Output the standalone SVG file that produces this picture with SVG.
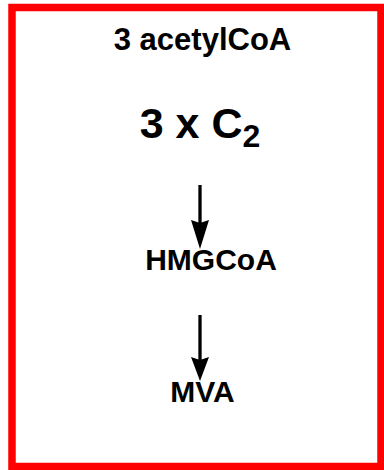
<svg xmlns="http://www.w3.org/2000/svg" width="384" height="470" viewBox="0 0 384 470">
<style>
text{font-family:"Liberation Sans",Arial,sans-serif;font-weight:bold;fill:#000;text-anchor:middle}
.conn line{stroke:#000;stroke-width:3.3}
</style>
<defs>
<marker id="ah" markerUnits="userSpaceOnUse" markerWidth="20" markerHeight="30" refX="9" refY="28" orient="auto" viewBox="0 0 18 30">
<path d="M0,0 L9,3 L18,0 L9,28 Z" fill="#000"/>
</marker>
</defs>
<rect x="12" y="7.5" width="369" height="459" fill="#fff" stroke="#f00" stroke-width="7.5"/>
<g id="acetylcoa"><text x="202.5" y="50" font-size="31">3 acetylCoA</text></g>
<g id="c2"><text x="200" y="138" font-size="43">3 x C<tspan font-size="32" dy="9">2</tspan></text></g>
<g id="hmgcoa"><text x="211" y="270" font-size="30">HMGCoA</text></g>
<g id="mva"><text x="202.5" y="402" font-size="30">MVA</text></g>
<g class="conn" id="connectors">
<line x1="200" y1="185" x2="200" y2="226"/>
<path d="M191,220 L200,223 L209,220 L200,249 Z" fill="#000"/>
<line x1="200" y1="315" x2="200" y2="362"/>
<path d="M191,357 L200,360 L209,357 L200,381 Z" fill="#000"/>
</g>
</svg>
